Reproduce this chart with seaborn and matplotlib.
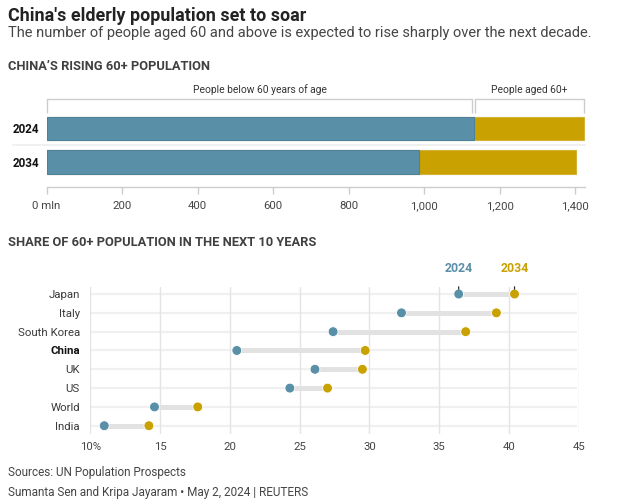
import matplotlib
matplotlib.use("Agg")
import matplotlib.pyplot as plt
import seaborn as sns
import pandas as pd
import numpy as np

# ---------------- data ----------------
years = ["2024", "2034"]
below_60 = [1131, 986]        # million people below 60
aged_60_plus = [293, 417]     # million people aged 60+
top_ticks = [0, 200, 400, 600, 800, 1000, 1200, 1400]
top_tick_labels = ["0 mln", "200", "400", "600", "800", "1,000", "1,200", "1,400"]

countries = ["Japan", "Italy", "South Korea", "China", "UK", "US", "World", "India"]
share_2024 = [36.4, 32.3, 27.4, 20.5, 26.1, 24.3, 14.6, 11.0]
share_2034 = [40.4, 39.1, 36.9, 29.7, 29.5, 27.0, 17.7, 14.2]
bottom_ticks = [10, 15, 20, 25, 30, 35, 40, 45]
bottom_tick_labels = ["10%", "15", "20", "25", "30", "35", "40", "45"]

BLUE = "#5a8fa8"
BLUE_EDGE = "#4d8199"
GOLD = "#c9a100"
GOLD_EDGE = "#d4b238"

sns.set_theme(style="white")
plt.rcParams["font.family"] = ["Roboto", "DejaVu Sans"]

W, H = 635, 500
fig = plt.figure(figsize=(W / 100, H / 100), dpi=100)
fig.patch.set_facecolor("white")


def fx(px):
    return px / W


def fy(py):
    return 1 - py / H


def axes_px(left, top, right, bottom):
    return fig.add_axes([fx(left), fy(bottom), (right - left) / W, (bottom - top) / H])


# ---------------- headings ----------------
fig.text(fx(8), fy(20.7), "China's elderly population set to soar", fontsize=12.9,
         fontweight="bold", color="#222222", va="baseline", ha="left")
fig.text(fx(8), fy(36.5), "The number of people aged 60 and above is expected to rise sharply over the next decade.",
         fontsize=10.55, fontweight="normal", color="#454545", va="baseline", ha="left")
fig.text(fx(8), fy(70), "CHINA\u2019S RISING 60+ POPULATION", fontsize=9.3,
         fontweight="bold", color="#404040", va="baseline", ha="left")
fig.text(fx(8), fy(245.5), "SHARE OF 60+ POPULATION IN THE NEXT 10 YEARS", fontsize=9.3,
         fontweight="bold", color="#404040", va="baseline", ha="left")
fig.text(fx(8), fy(476), "Sources: UN Population Prospects", fontsize=8.5,
         fontweight="normal", color="#454545", va="baseline", ha="left")
fig.text(fx(8), fy(496), "Sumanta Sen and Kripa Jayaram \u2022 May 2, 2024 | REUTERS", fontsize=8.5,
         fontweight="normal", color="#454545", va="baseline", ha="left")

# ---------------- top chart: stacked bars ----------------
df_top = pd.DataFrame({"year": years, "below": below_60, "above": aged_60_plus})
df_top["total"] = df_top["below"] + df_top["above"]

ax1 = axes_px(46.5, 99.3, 585, 187.3)
sns.barplot(data=df_top, x="total", y="year", orient="h", color=GOLD, width=0.70,
            edgecolor=GOLD_EDGE, linewidth=0.8, saturation=1, ax=ax1)
sns.barplot(data=df_top, x="below", y="year", orient="h", color=BLUE, width=0.70,
            edgecolor=BLUE_EDGE, linewidth=0.8, saturation=1, ax=ax1)
ax1.set_xlim(0, 1426)
ax1.set_ylim(1.751, -0.861)
ax1.set_xlabel("")
ax1.set_ylabel("")
for s in ["top", "right", "left"]:
    ax1.spines[s].set_visible(False)
ax1.spines["bottom"].set_color("#cccccc")
ax1.spines["bottom"].set_linewidth(1)
ax1.set_xticks(top_ticks)
ax1.set_xticklabels(top_tick_labels)
ax1.tick_params(axis="x", length=5, width=1, color="#cccccc", pad=5,
                labelsize=8.2, labelcolor="#454545", bottom=True)
ax1.tick_params(axis="y", length=0, pad=5, labelsize=8.4, labelcolor="#111111")
for lbl in ax1.get_yticklabels():
    lbl.set_fontweight("bold")

# separator between the two bars
ax1.plot([-0.062, 1.0], [0.5, 0.5], transform=ax1.get_yaxis_transform(),
         color="#eeeeee", lw=1.2, clip_on=False, zorder=0)

# bracket above the first bar
b0, t0 = df_top.loc[0, "below"], df_top.loc[0, "total"]
gap = 4
yb_top, yb_bot = -0.861, -0.445
br_kw = dict(color="#cccccc", lw=1, clip_on=False, solid_capstyle="butt")
ax1.plot([0, 0, b0 - gap, b0 - gap], [yb_bot, yb_top, yb_top, yb_bot], **br_kw)
ax1.plot([b0 + gap, b0 + gap, t0, t0], [yb_bot, yb_top, yb_top, yb_bot], **br_kw)
ax1.text(b0 / 2, -1.14, "People below 60 years of age", ha="center", va="center",
         fontsize=7.4, color="#333333")
ax1.text((b0 + t0) / 2, -1.14, "People aged 60+", ha="center", va="center",
         fontsize=7.4, color="#333333")

# ---------------- bottom chart: dumbbell ----------------
df_b = pd.DataFrame({"country": countries, "y2024": share_2024, "y2034": share_2034})
long = df_b.melt(id_vars="country", value_vars=["y2024", "y2034"],
                 var_name="year", value_name="share")

ax2 = axes_px(90.3, 286.7, 578.7, 434)
ypos = np.arange(len(countries))
# row guide lines
ax2.hlines(ypos, 10, 44.9, color="#f0f0f0", lw=1.6, zorder=0)
# connectors
ax2.hlines(ypos, df_b["y2024"], df_b["y2034"], color="#e2e2e2", lw=3.6, zorder=1)
sns.scatterplot(data=long, x="share", y=long["country"].map({c: i for i, c in enumerate(countries)}),
                hue="year", palette={"y2024": BLUE, "y2034": GOLD}, s=50,
                edgecolor="white", linewidth=0.6, legend=False, zorder=3, ax=ax2)
ax2.set_xlim(10, 45)
ax2.set_ylim(7.44, -0.39)
ax2.set_xlabel("")
ax2.set_ylabel("")
for s in ["top", "right", "left", "bottom"]:
    ax2.spines[s].set_visible(False)
ax2.set_xticks(bottom_ticks)
ax2.set_xticklabels(bottom_tick_labels)
ax2.grid(axis="x", color="#e4e4e4", lw=1)
ax2.grid(axis="y", visible=False)
ax2.tick_params(axis="x", length=0, pad=6, labelsize=8.2, labelcolor="#454545")
ax2.set_yticks(ypos)
ax2.set_yticklabels(countries)
ax2.tick_params(axis="y", length=0, pad=7.5, labelsize=8.2, labelcolor="#3a3a3a")
for lbl in ax2.get_yticklabels():
    if lbl.get_text() == "China":
        lbl.set_fontweight("bold")
        lbl.set_color("#111111")

# year annotations on the first row
j24, j34 = df_b.loc[0, "y2024"], df_b.loc[0, "y2034"]
ax2.annotate("2024", xy=(j24, -0.25), xytext=(j24, -1.35), ha="center", va="center",
             fontsize=8.8, fontweight="bold", color=BLUE, annotation_clip=False,
             arrowprops=dict(arrowstyle="-", color="#333333", lw=0.9, shrinkA=6, shrinkB=0))
ax2.annotate("2034", xy=(j34, -0.25), xytext=(j34, -1.35), ha="center", va="center",
             fontsize=8.8, fontweight="bold", color=GOLD, annotation_clip=False,
             arrowprops=dict(arrowstyle="-", color="#333333", lw=0.9, shrinkA=6, shrinkB=0))

fig.savefig("out.png", dpi=100, facecolor="white")
